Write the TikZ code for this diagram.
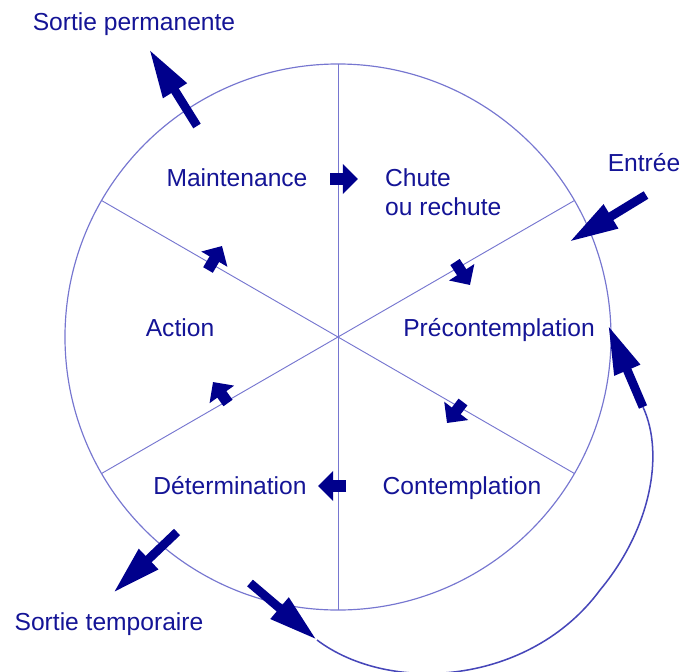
\documentclass[tikz,border=0pt]{standalone}
\usepackage{fontspec}
\setmainfont{Liberation Sans}
\usepackage{tikz}
\usetikzlibrary{arrows.meta, positioning, calc}
\definecolor{textblue}{RGB}{20, 20, 150}
\definecolor{arrowblue}{RGB}{0, 0, 140}
\definecolor{lineblue}{RGB}{118, 118, 208}
\definecolor{loopblue}{RGB}{70, 70, 185}

\begin{document}
\begin{tikzpicture}[x=0.03cm, y=-0.03cm,
    stage/.style={text=textblue, font=\fontsize{21}{25}\selectfont},
    stagearrow/.style={arrowblue, line width=9.5pt, -{Triangle[length=13pt, width=25pt]}},
    bigarrow/.style={arrowblue, line width=7.5pt, -{Triangle[length=42pt, width=22pt]}}]
  \useasboundingbox (0,0) rectangle (683,671);

  % Wheel
  \node[circle, draw=lineblue, line width=1pt, outer sep=0pt, minimum size=16.38cm] (wheel) at (338,337) {};
  \draw[lineblue, line width=0.8pt] (wheel.90) -- (wheel.270);
  \draw[lineblue, line width=0.8pt] (wheel.150) -- (wheel.330);
  \draw[lineblue, line width=0.8pt] (wheel.30) -- (wheel.210);

  % Stages
  \node[stage] (maint) at (237,178) {Maintenance};
  \node[stage, anchor=west, align=left] (chute) at (381,192) {Chute\\ou rechute};
  \node[stage] (precont) at (499,330) {Précontemplation};
  \node[stage] (action) at (180,328) {Action};
  \node[stage] (cont) at (462,488) {Contemplation};
  \node[stage] (determ) at (230,486) {Détermination};

  % Entries and exits
  \node[stage] (entree) at (644,163) {Entrée};
  \node[stage] (sperm) at (134,24) {Sortie permanente};
  \node[stage] (stemp) at (109,624) {Sortie temporaire};

  % Cycle arrows
  \coordinate (a1) at (330,179); \coordinate (b1) at (358,179);
  \coordinate (a2) at (455,262); \coordinate (b2) at (470,285);
  \coordinate (a3) at (463,402); \coordinate (b3) at (447,423);
  \coordinate (a4) at (346,486); \coordinate (b4) at (318,486);
  \coordinate (a5) at (228,403); \coordinate (b5) at (213,382);
  \coordinate (a6) at (208,270); \coordinate (b6) at (222,246);
  \foreach \i in {1,...,6}
    \draw[stagearrow] (a\i) -- (b\i);

  % Return loop
  \coordinate (backtail) at (250,583);
  \coordinate (backtip) at (317,640);
  \coordinate (rettail) at (643,407);
  \coordinate (rettip) at (608,325);
  \draw[loopblue, line width=1.3pt] (backtip) .. controls (390,695) and (530,685) .. (600,590)
    .. controls (650,530) and (665,455) .. (rettail);

  % Big arrows
  \coordinate (permtail) at (197,126);
  \coordinate (permtip) at (149,49);
  \coordinate (entail) at (646,195);
  \coordinate (entip) at (569,242);
  \coordinate (temptail) at (177,532);
  \coordinate (temptip) at (113,593);
  \draw[bigarrow] (permtail) -- (permtip);
  \draw[bigarrow] (entail) -- (entip);
  \draw[bigarrow] (temptail) -- (temptip);
  \draw[bigarrow] (backtail) -- (backtip);
  \draw[bigarrow] (rettail) -- (rettip);
\end{tikzpicture}
\end{document}
